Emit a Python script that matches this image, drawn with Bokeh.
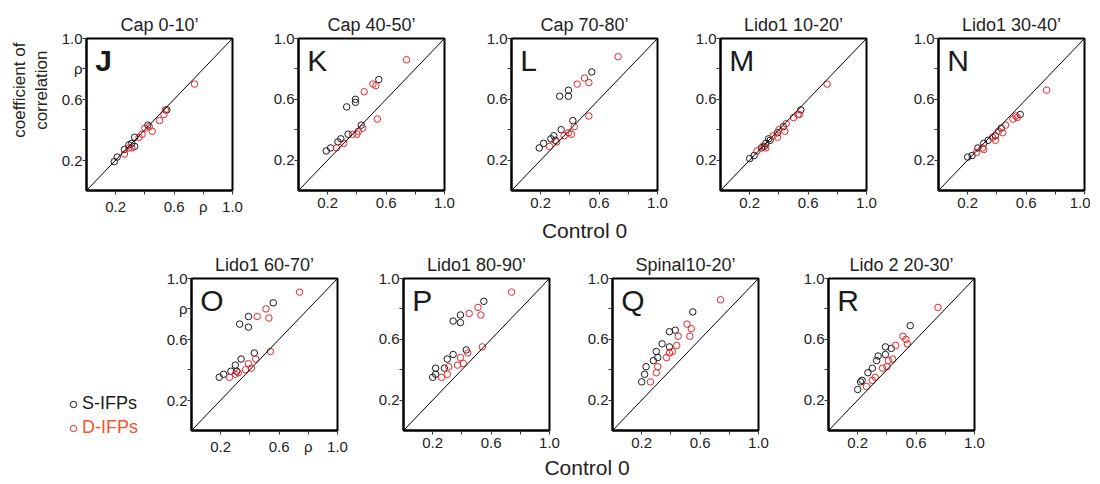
import math
from bokeh.plotting import figure
from bokeh.layouts import column, row
from bokeh.models import Label, Slope, FixedTicker, Legend, LegendItem, Div, Spacer
from bokeh.embed import file_html
from bokeh.resources import INLINE

# ---------------- data ----------------
TITLES = ["Cap 0-10’", "Cap 40-50’", "Cap 70-80’", "Lido1 10-20’", "Lido1 30-40’",
          "Lido1 60-70’", "Lido1 80-90’", "Spinal10-20’", "Lido 2 20-30’"]
LETTERS = ["J", "K", "L", "M", "N", "O", "P", "Q", "R"]
TICKS = [0.2, 0.4, 0.6, 0.8, 1.0]
TICK_LABELS = ["0.2", "", "0.6", "", "1.0"]
TICK_LABELS_RHO = ["0.2", "", "0.6", "ρ", "1.0"]
LEGEND_LABELS = ["S-IFPs", "D-IFPs"]

J_S_X = [0.19, 0.21, 0.26, 0.29, 0.31, 0.33, 0.33, 0.42, 0.55]
J_S_Y = [0.19, 0.22, 0.27, 0.30, 0.31, 0.29, 0.35, 0.43, 0.53]
J_D_X = [0.26, 0.29, 0.31, 0.36, 0.38, 0.40, 0.43, 0.45, 0.50, 0.53, 0.54, 0.74]
J_D_Y = [0.24, 0.28, 0.28, 0.35, 0.37, 0.41, 0.42, 0.39, 0.46, 0.50, 0.53, 0.70]

K_S_X = [0.19, 0.22, 0.27, 0.29, 0.34, 0.33, 0.39, 0.39, 0.43, 0.55]
K_S_Y = [0.26, 0.28, 0.32, 0.34, 0.37, 0.55, 0.58, 0.60, 0.43, 0.73]
K_D_X = [0.26, 0.31, 0.37, 0.40, 0.41, 0.44, 0.45, 0.51, 0.53, 0.54, 0.74]
K_D_Y = [0.28, 0.31, 0.37, 0.37, 0.39, 0.41, 0.65, 0.70, 0.69, 0.47, 0.86]

L_S_X = [0.19, 0.22, 0.27, 0.29, 0.30, 0.34, 0.33, 0.39, 0.39, 0.42, 0.55]
L_S_Y = [0.28, 0.31, 0.34, 0.36, 0.33, 0.40, 0.62, 0.66, 0.62, 0.46, 0.78]
L_D_X = [0.26, 0.31, 0.36, 0.39, 0.41, 0.43, 0.45, 0.50, 0.53, 0.53, 0.73]
L_D_Y = [0.29, 0.32, 0.36, 0.38, 0.37, 0.42, 0.70, 0.74, 0.71, 0.49, 0.88]

M_S_X = [0.20, 0.23, 0.28, 0.30, 0.31, 0.33, 0.34, 0.39, 0.43, 0.55]
M_S_Y = [0.21, 0.23, 0.28, 0.29, 0.31, 0.34, 0.33, 0.38, 0.42, 0.53]
M_D_X = [0.25, 0.29, 0.31, 0.36, 0.39, 0.40, 0.44, 0.45, 0.50, 0.53, 0.54, 0.73]
M_D_Y = [0.26, 0.29, 0.28, 0.36, 0.35, 0.40, 0.39, 0.44, 0.48, 0.50, 0.50, 0.70]

N_S_X = [0.20, 0.23, 0.27, 0.31, 0.34, 0.39, 0.43, 0.56]
N_S_Y = [0.22, 0.23, 0.28, 0.31, 0.33, 0.36, 0.41, 0.50]
N_D_X = [0.26, 0.30, 0.31, 0.37, 0.39, 0.41, 0.44, 0.46, 0.51, 0.53, 0.54, 0.74]
N_D_Y = [0.25, 0.28, 0.27, 0.35, 0.33, 0.39, 0.38, 0.43, 0.47, 0.49, 0.48, 0.66]

O_S_X = [0.19, 0.22, 0.27, 0.30, 0.31, 0.34, 0.33, 0.39, 0.39, 0.43, 0.56]
O_S_Y = [0.35, 0.37, 0.39, 0.43, 0.39, 0.47, 0.70, 0.75, 0.68, 0.51, 0.84]
O_D_X = [0.26, 0.30, 0.32, 0.37, 0.39, 0.41, 0.44, 0.45, 0.51, 0.53, 0.54, 0.74]
O_D_Y = [0.35, 0.37, 0.38, 0.40, 0.44, 0.41, 0.47, 0.75, 0.80, 0.74, 0.52, 0.91]

P_S_X = [0.20, 0.22, 0.22, 0.28, 0.30, 0.34, 0.34, 0.39, 0.39, 0.43, 0.55]
P_S_Y = [0.35, 0.37, 0.41, 0.41, 0.47, 0.50, 0.72, 0.71, 0.76, 0.53, 0.85]
P_D_X = [0.26, 0.30, 0.31, 0.37, 0.39, 0.41, 0.44, 0.45, 0.51, 0.53, 0.54, 0.74]
P_D_Y = [0.35, 0.37, 0.42, 0.43, 0.48, 0.44, 0.51, 0.77, 0.81, 0.76, 0.55, 0.91]

Q_S_X = [0.20, 0.22, 0.23, 0.28, 0.30, 0.31, 0.34, 0.39, 0.39, 0.43, 0.55]
Q_S_Y = [0.32, 0.37, 0.42, 0.46, 0.52, 0.48, 0.57, 0.65, 0.55, 0.66, 0.78]
Q_D_X = [0.26, 0.30, 0.31, 0.37, 0.39, 0.41, 0.44, 0.45, 0.51, 0.54, 0.53, 0.74]
Q_D_Y = [0.32, 0.38, 0.42, 0.48, 0.51, 0.52, 0.56, 0.62, 0.70, 0.67, 0.62, 0.86]

R_S_X = [0.20, 0.22, 0.23, 0.27, 0.30, 0.33, 0.34, 0.39, 0.39, 0.43, 0.56]
R_S_Y = [0.27, 0.32, 0.33, 0.38, 0.41, 0.46, 0.49, 0.50, 0.55, 0.54, 0.69]
R_D_X = [0.26, 0.30, 0.32, 0.37, 0.41, 0.40, 0.44, 0.46, 0.51, 0.53, 0.54, 0.75]
R_D_Y = [0.29, 0.33, 0.35, 0.41, 0.46, 0.42, 0.47, 0.56, 0.62, 0.60, 0.57, 0.81]

# ---------------- style ----------------
FONT = "Liberation Sans"
BLACK = "#1a1a1a"
RED = "#e8262b"
RED_TEXT = "#f2552a"
W, H = 146, 152


def make_panel(idx, sx, sy, dx, dy, left, right, top, bottom, rho=False):
    p = figure(frame_width=W, frame_height=H, x_range=(0, 1), y_range=(0, 1),
               min_border_left=left, min_border_right=right,
               min_border_top=top, min_border_bottom=bottom,
               output_backend="svg", toolbar_location=None, title=TITLES[idx])
    p.title.align = "center"
    p.title.text_font = FONT
    p.title.text_font_size = "18px"
    p.title.text_font_style = "normal"
    p.title.text_color = "#222222"
    p.title.standoff = 8
    p.xgrid.visible = False
    p.ygrid.visible = False
    p.outline_line_color = "black"
    p.outline_line_width = 2
    p.outline_line_alpha = 1
    p.background_fill_color = "white"
    p.border_fill_color = "white"
    labels = TICK_LABELS_RHO if rho else TICK_LABELS
    for ax in (p.xaxis[0], p.yaxis[0]):
        ax.ticker = FixedTicker(ticks=TICKS)
        ax.major_label_overrides = dict(zip(TICKS, labels))
        ax.major_tick_out = 4
        ax.major_tick_in = 0
        ax.minor_tick_line_color = None
        ax.axis_line_width = 2
        ax.axis_line_color = "black"
        ax.major_tick_line_color = "#333333"
        ax.major_label_text_font = FONT
        ax.major_label_text_font_size = "15px"
        ax.major_label_text_color = "#222222"
    p.xaxis[0].major_label_standoff = 3
    p.yaxis[0].major_label_standoff = 0
    p.add_layout(Slope(gradient=1, y_intercept=0, line_color="black", line_width=1))
    p.scatter(sx, sy, marker="circle", size=6.5, fill_color=None,
              line_color=BLACK, line_width=1)
    p.scatter(dx, dy, marker="circle", size=6.5, fill_color=None,
              line_color=RED, line_width=1)
    p.add_layout(Label(x=0.06, y=0.965, text=LETTERS[idx], text_baseline="top",
                       text_font=FONT, text_font_size="30px", text_color="#1a1a1a",
                       text_font_style="bold" if idx == 0 else "normal"))
    return p


pJ = make_panel(0, J_S_X, J_S_Y, J_D_X, J_D_Y, 34, 20, 38, 58, rho=True)
pK = make_panel(1, K_S_X, K_S_Y, K_D_X, K_D_Y, 46, 20, 38, 58)
pL = make_panel(2, L_S_X, L_S_Y, L_D_X, L_D_Y, 47, 20, 38, 58)
pM = make_panel(3, M_S_X, M_S_Y, M_D_X, M_D_Y, 43, 20, 38, 58)
pN = make_panel(4, N_S_X, N_S_Y, N_D_X, N_D_Y, 52, 6, 38, 58)

pO = make_panel(5, O_S_X, O_S_Y, O_D_X, O_D_Y, 43, 20, 30, 26, rho=True)
pP = make_panel(6, P_S_X, P_S_Y, P_D_X, P_D_Y, 46, 20, 30, 26)
pQ = make_panel(7, Q_S_X, Q_S_Y, Q_D_X, Q_D_Y, 43, 20, 30, 26)
pR = make_panel(8, R_S_X, R_S_Y, R_D_X, R_D_Y, 50, 20, 30, 26)

# x label of first row
pL.xaxis.axis_label = "Control 0"
pL.xaxis.axis_label_text_font = FONT
pL.xaxis.axis_label_text_font_size = "21px"
pL.xaxis.axis_label_text_font_style = "normal"
pL.xaxis.axis_label_text_color = "#222222"
pL.xaxis.axis_label_standoff = 8

# y label column (left of first panel)
ylab_fig = figure(frame_width=52, frame_height=H, x_range=(0, 1), y_range=(0, 1),
                  x_axis_type=None, y_axis_type=None,
                  min_border_left=0, min_border_right=0, min_border_top=38,
                  min_border_bottom=58, output_backend="svg", toolbar_location=None)
ylab_fig.outline_line_color = None
ylab_fig.grid.visible = False
ylab_fig.add_layout(Label(x=0.577, y=0.66, text="coefficient of\ncorrelation",
                          angle=math.pi / 2, text_align="center", text_baseline="middle",
                          text_font=FONT, text_font_size="17px", text_color="#222222"))

# legend panel (left of row 2)
leg_fig = figure(frame_width=148, frame_height=178, x_range=(0, 1), y_range=(0, 1),
                 x_axis_type=None, y_axis_type=None,
                 min_border_left=0, min_border_right=0, min_border_top=30,
                 min_border_bottom=0, output_backend="svg", toolbar_location=None)
leg_fig.outline_line_color = None
leg_fig.grid.visible = False
rs_leg = leg_fig.scatter(x=[math.nan], y=[math.nan], marker="circle", size=6.5,
                         fill_color=None, line_color=BLACK, line_width=1)
rd_leg = leg_fig.scatter(x=[math.nan], y=[math.nan], marker="circle", size=6.5,
                         fill_color=None, line_color=RED, line_width=1)
for lab, rend, col, loc in [(LEGEND_LABELS[0], rs_leg, "#1a1a1a", (65, 42)),
                            (LEGEND_LABELS[1], rd_leg, RED_TEXT, (65, 18))]:
    leg = Legend(items=[LegendItem(label=lab, renderers=[rend])], location=loc,
                 glyph_width=16, glyph_height=16, label_standoff=1, padding=0,
                 margin=0, spacing=0, label_height=20, border_line_color=None,
                 background_fill_alpha=0, label_text_font=FONT,
                 label_text_font_size="18px", label_text_color=col)
    leg_fig.add_layout(leg)

ctrl = Div(text="Control 0", width=140, height=24,
           styles={"font-family": FONT, "font-size": "21px", "text-align": "center",
                   "color": "#222222", "line-height": "24px",
                   "position": "relative", "top": "-6px"})

layout = column(row(column(ylab_fig), pJ, pK, pL, pM, pN),
                row(column(leg_fig), pO, pP, pQ, pR),
                row(Spacer(width=512, height=24), ctrl))

open("out.html", "w").write(file_html(layout, INLINE))
